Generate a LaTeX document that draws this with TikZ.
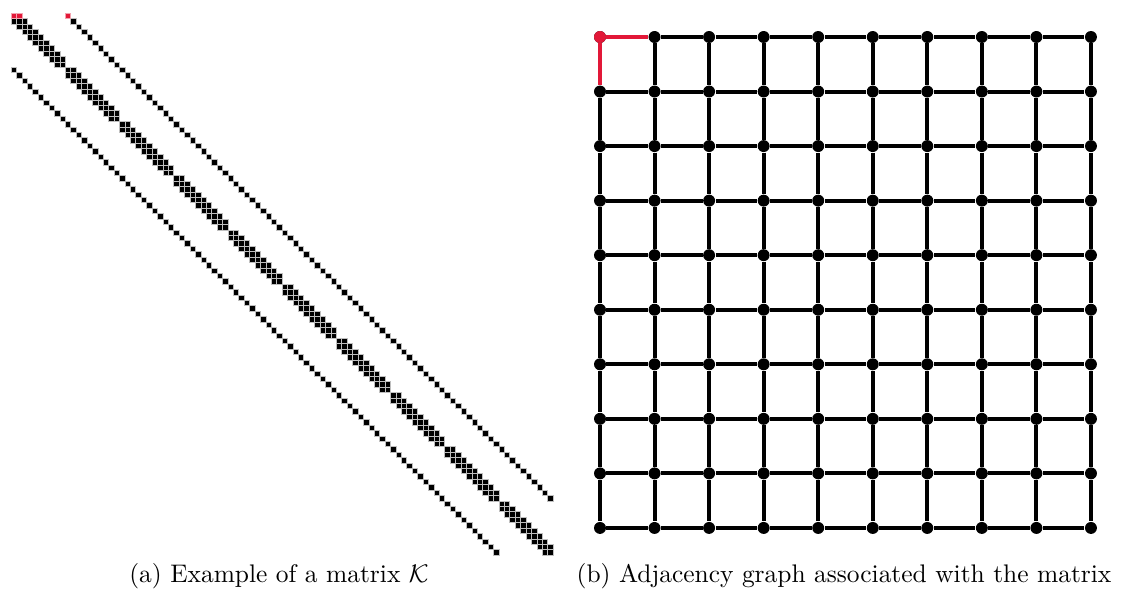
\documentclass[tikz,border=0pt]{standalone}
\usepackage{amsmath}
\usepackage{amssymb}
\usepackage{xcolor}
\usepackage{tikz}
\usetikzlibrary{positioning, calc}
\definecolor{pivotred}{RGB}{226,24,56}
\tikzset{
    spy/.style={x=0.393pt, y=-0.393pt, font=\normalsize},
    entry/.style={fill=black, draw=black!25, line width=0.15pt},
    pivot/.style={fill=pivotred, draw=pivotred!40, line width=0.15pt},
    vertex/.style={circle, fill=black, inner sep=0pt, minimum size=4.7pt},
    link/.style={line width=1.6pt},
    % the first unknown and its couplings
    first/.style={pivotred},
}

\begin{document}
\begin{tikzpicture}[spy]
    \useasboundingbox (0,0) rectangle (1125,595);

    % sparsity pattern, one cell per nonzero
    \begin{scope}[shift={(11,13)}, x=5.42*0.393pt, y=-5.42*0.393pt]
        \foreach \i in {0,...,99} {
            \draw[entry] (\i,\i) rectangle ++(1,1);
            \pgfmathtruncatemacro\r{mod(\i,10)}
            \ifnum\r<9
                \draw[entry] (\i+1,\i) rectangle ++(1,1);
                \draw[entry] (\i,\i+1) rectangle ++(1,1);
            \fi
            \ifnum\i<90
                \draw[entry] (\i+10,\i) rectangle ++(1,1);
                \draw[entry] (\i,\i+10) rectangle ++(1,1);
            \fi
        }
        \draw[pivot] (0,0) rectangle ++(1,1);
        \draw[pivot] (1,0) rectangle ++(1,1);
        \draw[pivot] (10,0) rectangle ++(1,1);
    \end{scope}

    % adjacency graph
    \foreach \i in {0,...,9}
        \foreach \j in {0,...,9}
            \node[vertex] (v-\i-\j) at (600+54.55*\j, 37+54.55*\i) {};
    \foreach \i in {0,...,9} {
        \foreach \j in {0,...,8} {
            \pgfmathtruncatemacro\k{\j+1}
            \draw[link] (v-\i-\j) -- (v-\i-\k);
            \draw[link] (v-\j-\i) -- (v-\k-\i);
        }
    }
    \node[vertex, fill=pivotred] at (v-0-0) {};
    \draw[link, first] (v-0-0) -- (v-0-1);
    \draw[link, first] (v-0-0) -- (v-1-0);

    \node (cap-a) at (279,576) {(a) Example of a matrix $\mathcal{K}$};
    \node (cap-b) at (844,576) {(b) Adjacency graph associated with the matrix};
\end{tikzpicture}
\end{document}
